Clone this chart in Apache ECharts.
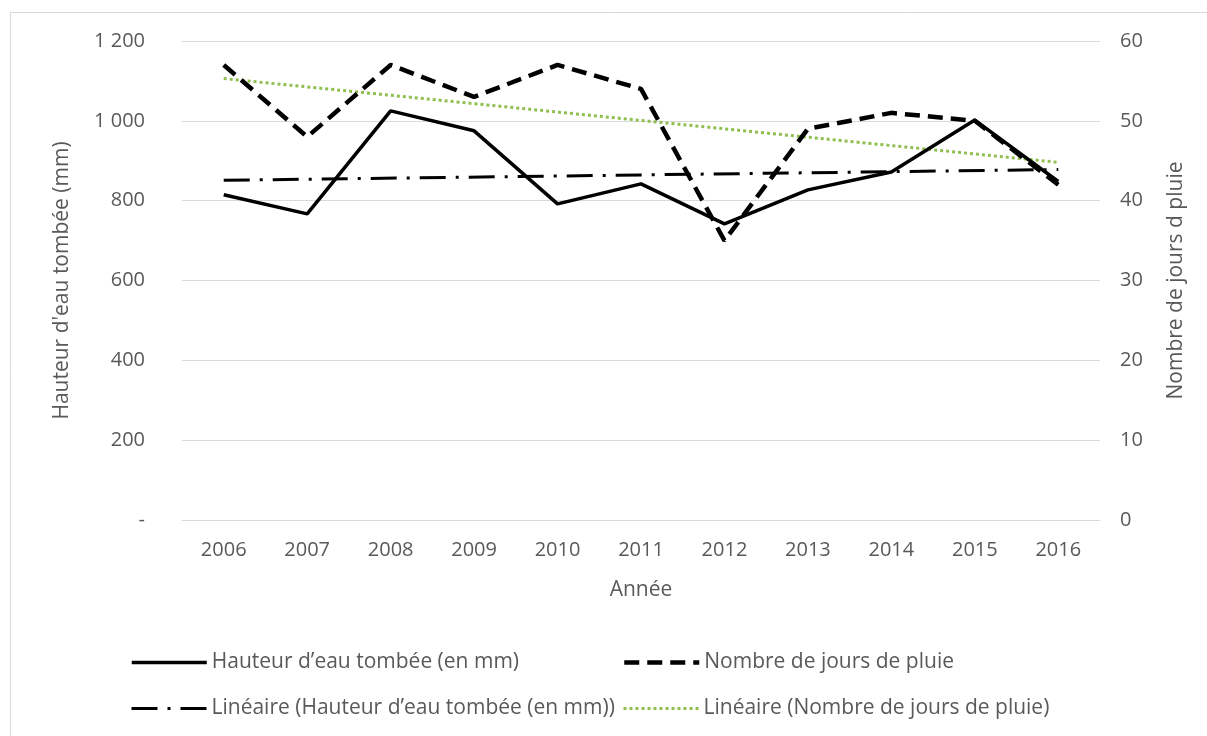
<!DOCTYPE html>
<html>
<head>
<meta charset="utf-8">
<script src="https://cdn.jsdelivr.net/npm/echarts@6/dist/echarts.min.js"></script>
<style>
  html, body { margin: 0; padding: 0; background: #fff; }
  #chart { width: 1207px; height: 736px; }
</style>
</head>
<body>
<div id="chart"></div>
<script>
// valeurs
const years = ['2006', '2007', '2008', '2009', '2010', '2011', '2012', '2013', '2014', '2015', '2016'];
const hauteur = [815, 767, 1025, 975, 792, 842, 742, 827, 872, 1002, 848];
const joursPluie = [57, 48, 57, 53, 57, 54, 35, 49, 51, 50, 42];
// extrémités des courbes de tendance (2006 -> 2016)
const tendHauteur = [851, 878];
const tendJours = [55.3, 44.8];

const nomH = 'Hauteur d\u2019eau tombée (en mm)';
const nomJ = 'Nombre de jours de pluie';
const nomTH = 'Linéaire (Hauteur d\u2019eau tombée (en mm))';
const nomTJ = 'Linéaire (Nombre de jours de pluie)';

const fontF = '"Open Sans", sans-serif';
const txt = '#595959';
const gris = '#d9d9d9';
const fs = 20;

const myChart = echarts.init(document.getElementById('chart'));

function leg(name, left, top) {
  return {
    data: [name], left: left, top: top, padding: 0,
    itemWidth: 75, itemHeight: 14, itemGap: 5,
    itemStyle: { opacity: 0 },
    lineStyle: { width: 'inherit', type: 'inherit' },
    textStyle: { color: txt, fontSize: 21, fontFamily: fontF }
  };
}

const option = {
  animation: false,
  textStyle: { fontFamily: fontF },
  graphic: [{
    type: 'rect',
    shape: { x: 10.5, y: 12.5, width: 1220, height: 740 },
    style: { fill: 'none', stroke: gris, lineWidth: 1 },
    silent: true
  }],
  grid: { left: 182, right: 107, top: 41, bottom: 216 },
  legend: [
    leg(nomH, 130, 652),
    leg(nomJ, 622, 652),
    leg(nomTH, 130, 698),
    leg(nomTJ, 622, 698)
  ],
  xAxis: {
    type: 'category',
    data: years,
    boundaryGap: true,
    name: 'Année',
    nameLocation: 'middle',
    nameGap: 60,
    nameTextStyle: { color: txt, fontSize: 21, fontFamily: fontF },
    axisLine: { lineStyle: { color: gris, width: 1 } },
    axisTick: { show: false },
    axisLabel: { color: txt, fontSize: fs, margin: 20, fontFamily: fontF }
  },
  yAxis: [{
    type: 'value',
    min: 0, max: 1200, interval: 200,
    name: 'Hauteur d\'eau tombée (mm)',
    nameLocation: 'middle',
    nameGap: 109,
    nameRotate: 90,
    nameTextStyle: { color: txt, fontSize: 21, fontFamily: fontF },
    axisLine: { show: false },
    axisTick: { show: false },
    splitLine: { lineStyle: { color: gris, width: 1 } },
    axisLabel: {
      color: txt, fontSize: fs, margin: 37, fontFamily: fontF,
      formatter: function (v) {
        if (v === 0) return '-';
        return String(v).replace(/\B(?=(\d{3})+(?!\d))/g, ' ');
      }
    }
  }, {
    type: 'value',
    min: 0, max: 60, interval: 10,
    name: 'Nombre de jours d pluie',
    nameLocation: 'middle',
    nameGap: 66,
    nameRotate: 90,
    nameTextStyle: { color: txt, fontSize: 21, fontFamily: fontF },
    axisLine: { show: false },
    axisTick: { show: false },
    splitLine: { show: false },
    axisLabel: { color: txt, fontSize: fs, margin: 20, fontFamily: fontF }
  }],
  series: [{
    name: nomH,
    type: 'line',
    yAxisIndex: 0,
    data: hauteur,
    symbol: 'none',
    lineStyle: { color: '#000', width: 3.5, type: 'solid' },
    itemStyle: { color: '#000' },
    z: 4
  }, {
    name: nomJ,
    type: 'line',
    yAxisIndex: 1,
    data: joursPluie,
    symbol: 'none',
    lineStyle: { color: '#000', width: 4.5, type: [15, 8] },
    itemStyle: { color: '#000' },
    z: 3
  }, {
    name: nomTH,
    type: 'line',
    yAxisIndex: 0,
    data: [[0, tendHauteur[0]], [years.length - 1, tendHauteur[1]]],
    symbol: 'none',
    lineStyle: { color: '#000', width: 3, type: [26, 10, 3, 10] },
    itemStyle: { color: '#000' },
    z: 2
  }, {
    name: nomTJ,
    type: 'line',
    yAxisIndex: 1,
    data: [[0, tendJours[0]], [years.length - 1, tendJours[1]]],
    symbol: 'none',
    lineStyle: { color: '#8fc04f', width: 3, type: [3, 3] },
    itemStyle: { color: '#8fc04f' },
    z: 2
  }]
};

myChart.setOption(option);
</script>
</body>
</html>
